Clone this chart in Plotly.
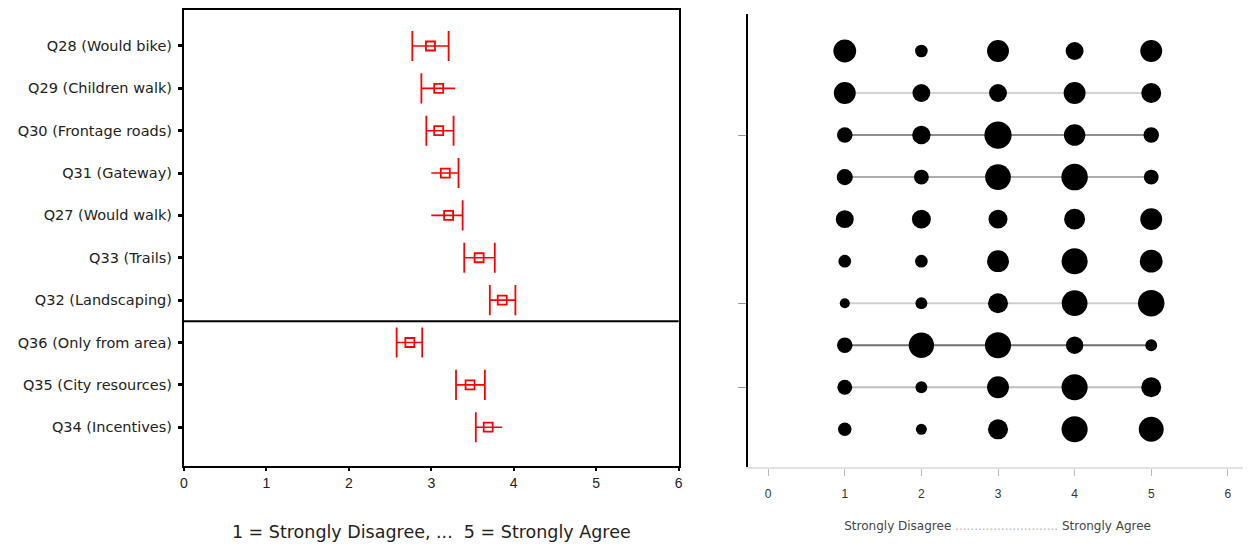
import plotly.graph_objects as go

# ---------------- data ----------------
questions = ["Q28 (Would bike)", "Q29 (Children walk)", "Q30 (Frontage roads)",
             "Q31 (Gateway)", "Q27 (Would walk)", "Q33 (Trails)", "Q32 (Landscaping)",
             "Q36 (Only from area)", "Q35 (City resources)", "Q34 (Incentives)"]
means = [2.99, 3.09, 3.09, 3.17, 3.21, 3.58, 3.86, 2.74, 3.47, 3.69]
ci_low = [2.77, 2.88, 2.94, 3.00, 3.00, 3.40, 3.71, 2.58, 3.30, 3.54]
ci_high = [3.21, 3.29, 3.27, 3.33, 3.38, 3.77, 4.02, 2.89, 3.65, 3.86]
cap_left = [True, True, True, False, False, True, True, True, True, True]
cap_right = [True, False, True, True, True, True, True, True, True, False]

scale_points = [1, 2, 3, 4, 5]
# percent of responses per scale point (rows follow questions order)
pct = [
    [26, 8, 24, 16, 24],
    [24, 16, 16, 24, 20],
    [12, 17, 37, 23, 12],
    [13, 11, 33, 35, 11],
    [16, 18, 18, 22, 24],
    [8, 8, 24, 34, 26],
    [5, 7, 20, 33, 35],
    [12, 32, 34, 15, 7],
    [11, 7, 24, 34, 20],
    [9, 6, 20, 34, 31],
]
# connecting line shade for each row (None = no line)
row_line_color = [None, "#d2d2d2", "#8f8f8f", "#acacac", None, None,
                  "#cfcfcf", "#707070", "#bdbdbd", None]

x_ticks = [0, 1, 2, 3, 4, 5, 6]
left_title = "1 = Strongly Disagree, ...  5 = Strongly Agree"
right_title = ("Strongly Disagree <span style='color:#b5b5b5'>"
               "...........................</span> Strongly Agree")

rows = list(range(1, len(questions) + 1))
RED = "rgb(255,0,0)"

# page body adds an 8px margin; figure is sized/positioned to compensate
W, H = 1243, 538
OFF = 8

fig = go.Figure()

# ---------------- left panel: means with CI ----------------
lx, ly = [], []
for lo, hi, r in zip(ci_low, ci_high, rows):
    lx += [lo, hi, None]
    ly += [r, r, None]
fig.add_trace(go.Scatter(x=lx, y=ly, mode="lines", line=dict(color=RED, width=1.6),
                         xaxis="x", yaxis="y", showlegend=False, hoverinfo="skip"))

cx, cy = [], []
for lo, hi, r, cl, cr in zip(ci_low, ci_high, rows, cap_left, cap_right):
    if cl:
        cx.append(lo); cy.append(r)
    if cr:
        cx.append(hi); cy.append(r)
fig.add_trace(go.Scatter(x=cx, y=cy, mode="markers",
                         marker=dict(symbol="line-ns", size=21.5, line=dict(color=RED, width=1.8)),
                         xaxis="x", yaxis="y", showlegend=False, hoverinfo="skip"))

fig.add_trace(go.Scatter(x=means, y=rows, mode="markers",
                         marker=dict(symbol="square-open", size=9, color=RED,
                                     line=dict(color=RED, width=1.8)),
                         xaxis="x", yaxis="y", showlegend=False))

# ---------------- right panel: response distributions ----------------
for r, col in zip(rows, row_line_color):
    if col:
        fig.add_trace(go.Scatter(x=[scale_points[0], scale_points[-1]], y=[r, r], mode="lines",
                                 line=dict(color=col, width=2), xaxis="x2", yaxis="y2",
                                 showlegend=False, hoverinfo="skip"))

bx, by, bs = [], [], []
for r, vals in zip(rows, pct):
    for sp, v in zip(scale_points, vals):
        bx.append(sp); by.append(r); bs.append(v)
fig.add_trace(go.Scatter(x=bx, y=by, mode="markers",
                         marker=dict(size=bs, sizemode="area", sizeref=0.1, color="black",
                                     opacity=1, line=dict(width=0)),
                         xaxis="x2", yaxis="y2", showlegend=False))

# divider between question groups
fig.add_shape(type="line", xref="x domain", yref="y", x0=0, x1=1, y0=7.5, y1=7.5,
              line=dict(color="black", width=2))

fig.update_layout(
    width=W, height=H,
    margin=dict(l=0, r=0, t=0, b=0),
    paper_bgcolor="white", plot_bgcolor="white",
    font=dict(family="DejaVu Sans, Liberation Sans, sans-serif", color="#222"),
    xaxis=dict(domain=[(181 - OFF) / W, (679 - OFF) / W], range=[0, 6], tickvals=x_ticks,
               showgrid=False, zeroline=False, showline=True, mirror=True,
               linecolor="black", linewidth=2, ticks="outside", ticklen=3, tickwidth=2,
               tickcolor="black", tickfont=dict(size=14, color="#222",
                                                family="Liberation Sans, Arial, sans-serif"),
               title=dict(text=left_title, font=dict(size=17.5, color="#222"), standoff=36)),
    yaxis=dict(domain=[(H - (466 - OFF)) / H, (H - (9 - OFF)) / H], range=[10.92, 0.15],
               tickvals=rows, ticktext=questions, showgrid=False, zeroline=False,
               showline=True, mirror=True, linecolor="black", linewidth=2,
               ticks="outside", ticklen=4, tickwidth=3, tickcolor="black",
               ticklabelstandoff=3,
               tickfont=dict(size=14.5, color="#222")),
    xaxis2=dict(domain=[(749 - OFF) / W, 1.0], range=[-0.26, 6.25], tickvals=x_ticks,
                showgrid=False, zeroline=False, showline=True, linecolor="#e2e2e2",
                linewidth=1.5, ticks="outside", ticklen=7, tickwidth=1, tickcolor="#bbbbbb",
                ticklabelstandoff=8,
                tickfont=dict(size=12, color="#333", family="Liberation Sans, Arial, sans-serif"),
                anchor="y2",
                title=dict(text=right_title, font=dict(size=12, color="#444"), standoff=21)),
    yaxis2=dict(domain=[(H - (467 - OFF)) / H, (H - (13 - OFF)) / H], range=[10.9, 0.12],
                tickvals=[3, 7, 9], ticktext=["", "", ""], showgrid=False, zeroline=False,
                showline=True, linecolor="black", linewidth=2, ticks="outside", ticklen=8,
                tickwidth=1, tickcolor="#999999", anchor="x2"),
)

fig.write_html("out.html")
